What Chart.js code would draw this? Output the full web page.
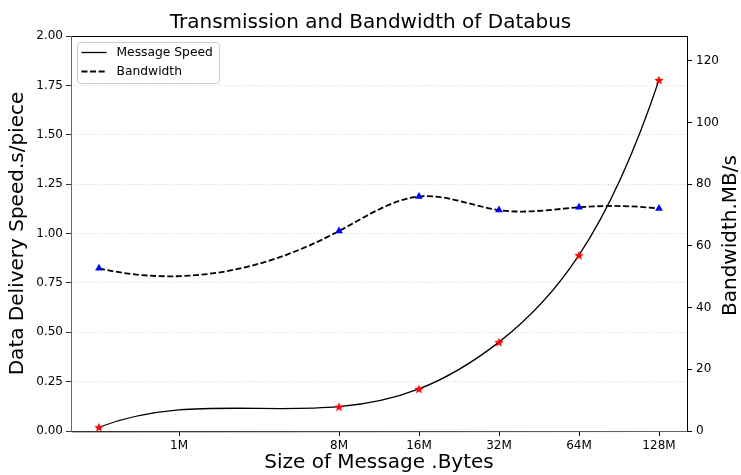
<!DOCTYPE html>
<html>
<head>
<meta charset="utf-8">
<script src="https://cdn.jsdelivr.net/npm/chart.js@4/dist/chart.umd.min.js"></script>
<style>
  html, body { margin: 0; padding: 0; background: #fff; }
  #wrap { width: 741px; height: 475px; }
</style>
</head>
<body>
<div id="wrap"><canvas id="line-chart"></canvas></div>
<script>
// chart data
const xPositions = [0, 3, 4, 5, 6, 7];
const tickPositions = [1, 3, 4, 5, 6, 7];
const tickLabels = ['1M', '8M', '16M', '32M', '64M', '128M'];
const messageSpeed = [0.019, 0.123, 0.213, 0.45, 0.89, 1.777];
const bandwidth = [52.7, 64.8, 76.0, 71.6, 72.5, 72.1];

const FONT = "'DejaVu Sans', sans-serif";

// filled star marker like matplotlib '*'
function makeStar(size, color) {
  const c = document.createElement('canvas');
  c.width = size; c.height = size;
  const g = c.getContext('2d');
  const cx = size / 2, cy = size / 2 + 0.5, R = size / 2, r = R * 0.42;
  g.beginPath();
  for (let i = 0; i < 10; i++) {
    const rad = i % 2 === 0 ? R : r;
    const a = -Math.PI / 2 + i * Math.PI / 5;
    g.lineTo(cx + rad * Math.cos(a), cy + rad * Math.sin(a));
  }
  g.closePath();
  g.fillStyle = color;
  g.fill();
  return c;
}

// slopes of a cubic spline through the points (pixel space)
// ends: 'notaknot' or 'parabolic'
function splineSlopes(xs, ys, ends) {
  const n = xs.length;
  const h = [];
  for (let i = 0; i < n - 1; i++) h.push(xs[i + 1] - xs[i]);
  const A = [], b = [];
  for (let i = 0; i < n; i++) { A.push(new Array(n).fill(0)); b.push(0); }
  if (ends === 'parabolic') {
    A[0][0] = 1; A[0][1] = -1;
    A[n - 1][n - 1] = 1; A[n - 1][n - 2] = -1;
  } else {
    A[0][0] = h[1]; A[0][1] = -(h[0] + h[1]); A[0][2] = h[0];
    A[n - 1][n - 3] = h[n - 2]; A[n - 1][n - 2] = -(h[n - 3] + h[n - 2]); A[n - 1][n - 1] = h[n - 3];
  }
  for (let i = 1; i < n - 1; i++) {
    A[i][i - 1] = h[i - 1];
    A[i][i] = 2 * (h[i - 1] + h[i]);
    A[i][i + 1] = h[i];
    b[i] = 6 * ((ys[i + 1] - ys[i]) / h[i] - (ys[i] - ys[i - 1]) / h[i - 1]);
  }
  for (let c = 0; c < n; c++) {
    let p = c;
    for (let r = c + 1; r < n; r++) if (Math.abs(A[r][c]) > Math.abs(A[p][c])) p = r;
    [A[c], A[p]] = [A[p], A[c]]; [b[c], b[p]] = [b[p], b[c]];
    for (let r = c + 1; r < n; r++) {
      const f = A[r][c] / A[c][c];
      for (let k = c; k < n; k++) A[r][k] -= f * A[c][k];
      b[r] -= f * b[c];
    }
  }
  const M = new Array(n).fill(0);
  for (let r = n - 1; r >= 0; r--) {
    let s = b[r];
    for (let k = r + 1; k < n; k++) s -= A[r][k] * M[k];
    M[r] = s / A[r][r];
  }
  const m = [];
  for (let i = 0; i < n - 1; i++) m.push((ys[i + 1] - ys[i]) / h[i] - h[i] * (2 * M[i] + M[i + 1]) / 6);
  m.push((ys[n - 1] - ys[n - 2]) / h[n - 2] + h[n - 2] * (M[n - 2] + 2 * M[n - 1]) / 6);
  return m;
}

// swap Chart.js bezier control points for the spline's own
const splinePlugin = {
  id: 'spline',
  beforeDatasetDraw(chart, args) {
    const meta = args.meta;
    const pts = meta.data;
    const ends = chart.data.datasets[args.index].splineEnds;
    meta.dataset.updateControlPoints(chart.chartArea, 'x');
    const m = splineSlopes(pts.map((p) => p.x), pts.map((p) => p.y), ends);
    pts.forEach((p, i) => {
      if (i > 0) {
        const h = p.x - pts[i - 1].x;
        p.cp1x = p.x - h / 3; p.cp1y = p.y - m[i] * h / 3;
      }
      if (i < pts.length - 1) {
        const h = pts[i + 1].x - p.x;
        p.cp2x = p.x + h / 3; p.cp2y = p.y + m[i] * h / 3;
      }
    });
    meta.dataset._path = undefined;
  }
};

// axes frame, right axis title, legend box inside the plot
const framePlugin = {
  id: 'frame',
  afterDraw(chart) {
    const { ctx, chartArea: a } = chart;
    ctx.save();
    ctx.lineWidth = 1;
    ctx.strokeStyle = '#000';
    ctx.strokeRect(a.left + 0.5, a.top + 0.5, a.right - a.left, a.bottom - a.top);
    ctx.strokeStyle = '#666';
    ctx.beginPath();
    ctx.moveTo(a.left + 0.5, a.top);
    ctx.lineTo(a.left + 0.5, a.bottom + 1);
    ctx.lineTo(a.right, a.bottom + 0.5);
    ctx.stroke();

    // right y title, reads bottom to top like the left one
    ctx.save();
    ctx.translate(731, (a.top + a.bottom) / 2 + 2);
    ctx.rotate(-Math.PI / 2);
    ctx.font = '20px ' + FONT;
    ctx.fillStyle = '#000';
    ctx.textAlign = 'center';
    ctx.textBaseline = 'middle';
    ctx.fillText('Bandwidth.MB/s', 0, 0);
    ctx.restore();

    // legend
    const bx = a.left + 6.5, by = a.top + 6.5, bw = 142, bh = 41;
    ctx.fillStyle = 'rgba(255,255,255,0.8)';
    ctx.strokeStyle = '#cccccc';
    ctx.lineWidth = 1;
    ctx.beginPath();
    ctx.roundRect(bx, by, bw, bh, 3);
    ctx.fill();
    ctx.stroke();
    ctx.font = '12.3px ' + FONT;
    ctx.textBaseline = 'middle';
    ctx.fillStyle = '#000';
    chart.data.datasets.forEach((ds, i) => {
      const ly = by + 10 + i * 19;
      ctx.strokeStyle = '#000';
      ctx.lineWidth = ds.borderWidth;
      ctx.setLineDash(ds.borderDash || []);
      ctx.beginPath();
      ctx.moveTo(bx + 4, ly);
      ctx.lineTo(bx + 29, ly);
      ctx.stroke();
      ctx.setLineDash([]);
      ctx.fillText(ds.label, bx + 39, ly);
    });
    ctx.restore();
  }
};

const ctx = document.getElementById('line-chart').getContext('2d');
// eslint-disable-next-line no-unused-vars
const chart = new Chart(ctx, {
  type: 'line',
  data: {
    datasets: [
      {
        label: 'Message Speed',
        data: xPositions.map((x, i) => ({ x, y: messageSpeed[i] })),
        yAxisID: 'y',
        splineEnds: 'notaknot',
        borderColor: '#000',
        borderWidth: 1.3,
        fill: false,
        tension: 0.4,
        pointStyle: makeStar(10, '#ff0000'),
        pointRadius: 5,
      },
      {
        label: 'Bandwidth',
        data: xPositions.map((x, i) => ({ x, y: bandwidth[i] })),
        yAxisID: 'y1',
        splineEnds: 'parabolic',
        borderColor: '#000',
        borderWidth: 1.8,
        borderDash: [6, 2.6],
        fill: false,
        tension: 0.4,
        pointStyle: 'triangle',
        pointRadius: 4.5,
        pointBackgroundColor: '#0000ff',
        pointBorderColor: '#0000ff',
        pointBorderWidth: 0,
      },
    ],
  },
  options: {
    responsive: true,
    maintainAspectRatio: false,
    animation: false,
    layout: { padding: 0 },
    plugins: {
      legend: { display: false },
      tooltip: { enabled: false },
      title: {
        display: true,
        text: 'Transmission and Bandwidth of Databus',
        color: '#000',
        font: { family: FONT, size: 20, weight: 'normal' },
        padding: { top: 11, bottom: 1 },
      },
    },
    scales: {
      x: {
        type: 'linear',
        min: -0.35,
        max: 7.35,
        afterBuildTicks: (axis) => {
          axis.ticks = tickPositions.map((v) => ({ value: v }));
        },
        afterFit: (axis) => { axis.height = 44; },
        ticks: {
          color: '#000',
          font: { family: FONT, size: 12 },
          padding: 3,
          maxRotation: 0,
          autoSkip: false,
          callback: (v) => tickLabels[tickPositions.indexOf(v)],
        },
        grid: { drawOnChartArea: false, tickLength: 5, tickColor: '#000' },
        border: { display: false },
        title: {
          display: true,
          text: 'Size of Message .Bytes',
          color: '#000',
          font: { family: FONT, size: 20 },
          padding: { top: 0, bottom: 0 },
        },
      },
      y: {
        position: 'left',
        min: 0,
        max: 2,
        afterFit: (axis) => { axis.width = 71; },
        ticks: {
          stepSize: 0.25,
          color: '#000',
          font: { family: FONT, size: 12 },
          padding: 3,
          callback: (v) => v.toFixed(2),
        },
        grid: { color: '#c8c8c8', tickLength: 5, tickColor: '#000', lineWidth: 0.8 },
        border: { display: false, dash: [1, 2] },
        title: {
          display: true,
          text: 'Data Delivery Speed.s/piece',
          color: '#000',
          font: { family: FONT, size: 20 },
          padding: { top: 6, bottom: 0 },
        },
      },
      y1: {
        position: 'right',
        min: 0,
        max: 128,
        afterBuildTicks: (axis) => {
          axis.ticks = axis.ticks.filter((t) => t.value % 20 === 0);
        },
        afterFit: (axis) => { axis.width = 54; },
        ticks: {
          stepSize: 20,
          color: '#000',
          font: { family: FONT, size: 12 },
          padding: 4,
        },
        grid: { drawOnChartArea: false, tickLength: 5, tickColor: '#000' },
        border: { display: false },
      },
    },
  },
  plugins: [splinePlugin, framePlugin],
});
</script>
</body>
</html>
